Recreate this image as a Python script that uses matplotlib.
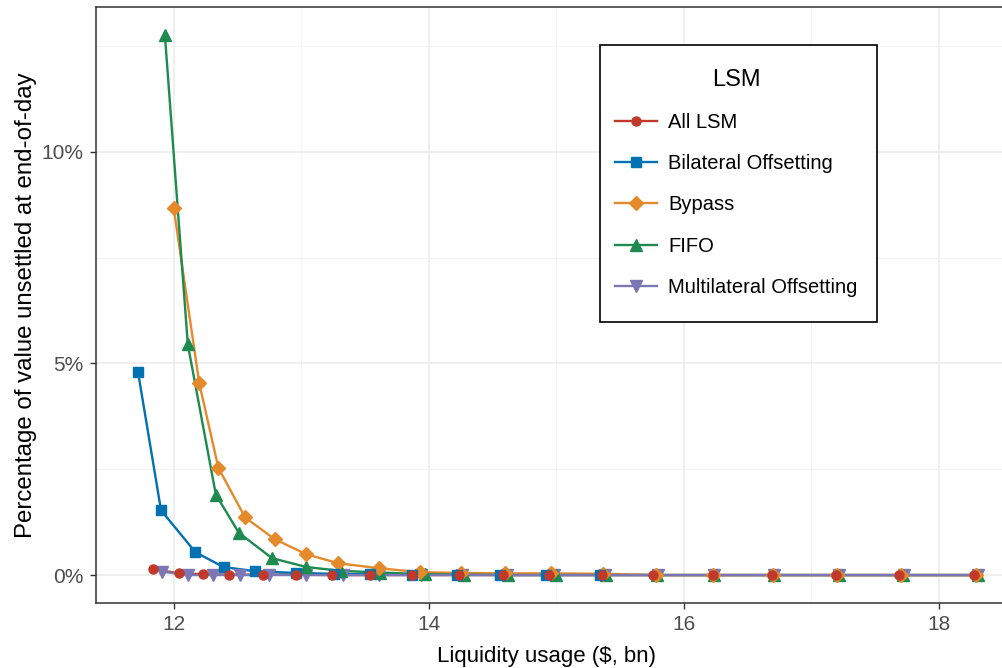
import matplotlib
matplotlib.use("Agg")
import matplotlib.pyplot as plt
from matplotlib.patches import Rectangle
from matplotlib.ticker import FuncFormatter, MultipleLocator

plt.rcParams['font.family'] = ['Liberation Sans', 'DejaVu Sans']

# data (x in $bn, y in % of value unsettled)
all_lsm_x = [11.84, 12.04, 12.23, 12.43, 12.70, 12.96, 13.24, 13.54, 13.87, 14.24,
             14.58, 14.94, 15.36, 15.76, 16.23, 16.69, 17.19, 17.69, 18.28]
all_lsm_y = [0.14, 0.04, 0.02, 0.01, 0.01, 0.01, 0.0, 0.0, 0.0, 0.0,
             0.0, 0.0, 0.0, 0.0, 0.0, 0.0, 0.0, 0.0, 0.0]

bilateral_x = [11.72, 11.90, 12.17, 12.39, 12.64, 12.96, 13.26, 13.54, 13.87, 14.22,
               14.56, 14.92, 15.34]
bilateral_y = [4.79, 1.53, 0.54, 0.19, 0.09, 0.05, 0.03, 0.02, 0.01, 0.01,
               0.01, 0.01, 0.01]

bypass_x = [12.00, 12.20, 12.35, 12.56, 12.79, 13.04, 13.29, 13.61, 13.93, 14.25,
            14.60, 14.96, 15.37, 15.78, 16.23, 16.70, 17.20, 17.70, 18.29]
bypass_y = [8.66, 4.53, 2.53, 1.36, 0.85, 0.49, 0.28, 0.16, 0.07, 0.05,
            0.04, 0.04, 0.03, 0.0, 0.0, 0.0, 0.0, 0.0, 0.0]

fifo_x = [11.93, 12.11, 12.33, 12.51, 12.77, 13.04, 13.31, 13.62, 13.97, 14.28,
          14.62, 15.00, 15.39, 15.79, 16.24, 16.71, 17.22, 17.72, 18.31]
fifo_y = [12.77, 5.45, 1.90, 1.00, 0.40, 0.19, 0.10, 0.06, 0.02, 0.01,
          0.0, 0.0, 0.0, 0.0, 0.0, 0.0, 0.0, 0.0, 0.0]

multi_x = [11.91, 12.11, 12.31, 12.52, 12.75, 13.04, 13.33, 13.61, 13.94, 14.26,
           14.61, 14.98, 15.38, 15.80, 16.24, 16.71, 17.22, 17.73, 18.31]
multi_y = [0.08, 0.0, 0.0, 0.0, 0.0, 0.0, 0.0, 0.0, 0.0, 0.0,
           0.0, 0.0, 0.0, 0.0, 0.0, 0.0, 0.0, 0.0, 0.0]

labels = ['All LSM', 'Bilateral Offsetting', 'Bypass', 'FIFO', 'Multilateral Offsetting']
colors = ['#C0392B', '#0072B2', '#E48A2B', '#1E8A50', '#7B77B5']
markers = ['o', 's', 'D', '^', 'v']
msizes = [6.5, 6.5, 6.8, 8.3, 8.3]
series = [(all_lsm_x, all_lsm_y), (bilateral_x, bilateral_y), (bypass_x, bypass_y),
          (fifo_x, fifo_y), (multi_x, multi_y)]

fig = plt.figure(figsize=(10.03, 6.68), dpi=100)
W, H = 1003, 668
x0, x1 = 11.39, 18.64
y0, y1 = -0.66, 13.42
px_per_x = 127.5
left_px, top_px, bot_px = 96, 7, 603
ax = fig.add_axes([left_px / W, 1 - bot_px / H,
                   (x1 - x0) * px_per_x / W, (bot_px - top_px) / H])

# lines first, then markers with red on top
for i, (xs, ys) in enumerate(series):
    ax.plot(xs, ys, color=colors[i], lw=1.7, zorder=2 + i * 0.1)
for i in [4, 3, 2, 1, 0]:
    xs, ys = series[i]
    ax.plot(xs, ys, ls='none', marker=markers[i], ms=msizes[i], color=colors[i],
            mec=colors[i], zorder=4 + (4 - i) * 0.1)
handles = []
for i in range(5):
    h, = ax.plot([], [], color=colors[i], lw=1.7, marker=markers[i], ms=msizes[i],
                 label=labels[i])
    handles.append(h)

ax.set_xlim(x0, x1)
ax.set_ylim(y0, y1)
ax.xaxis.set_major_locator(MultipleLocator(2))
ax.xaxis.set_minor_locator(MultipleLocator(1))
ax.yaxis.set_major_locator(MultipleLocator(5))
ax.yaxis.set_minor_locator(MultipleLocator(2.5))
ax.yaxis.set_major_formatter(FuncFormatter(lambda v, p: f'{v:.0f}%'))

ax.grid(True, which='major', color='#EBEBEB', lw=1.1, zorder=0)
ax.grid(True, which='minor', color='#F0F0F0', lw=0.55, zorder=0)
ax.set_axisbelow(True)
for s in ax.spines.values():
    s.set_color('#333333')
    s.set_linewidth(1.1)
ax.tick_params(which='major', length=4, width=1.0, color='#333333',
               labelsize=15, labelcolor='#4D4D4D', pad=5)
ax.tick_params(which='minor', length=0)

fig.text(547 / W, 1 - 646 / H, 'Liquidity usage ($, bn)', ha='center', va='top',
         fontsize=16, color='black')
ax.set_ylabel('Percentage of value unsettled at end-of-day', fontsize=17.3, labelpad=3)

# legend frame drawn separately so its size can be matched exactly
fig.patches.append(Rectangle((600 / W, 1 - 322 / H), 277 / W, 277 / H,
                             transform=fig.transFigure, fill=True, fc='white',
                             ec='black', lw=1.2, zorder=5))
leg = fig.legend(handles=handles, title='LSM', loc='upper left',
                 bbox_to_anchor=(615 / W, 1 - 69 / H), fontsize=14.5,
                 title_fontsize=17, frameon=False,
                 handlelength=2.1, handletextpad=0.55,
                 labelspacing=1.1, borderpad=0, borderaxespad=0)
leg.set_zorder(6)
leg._legend_box.align = 'center'

fig.savefig('out.png', dpi=100)
